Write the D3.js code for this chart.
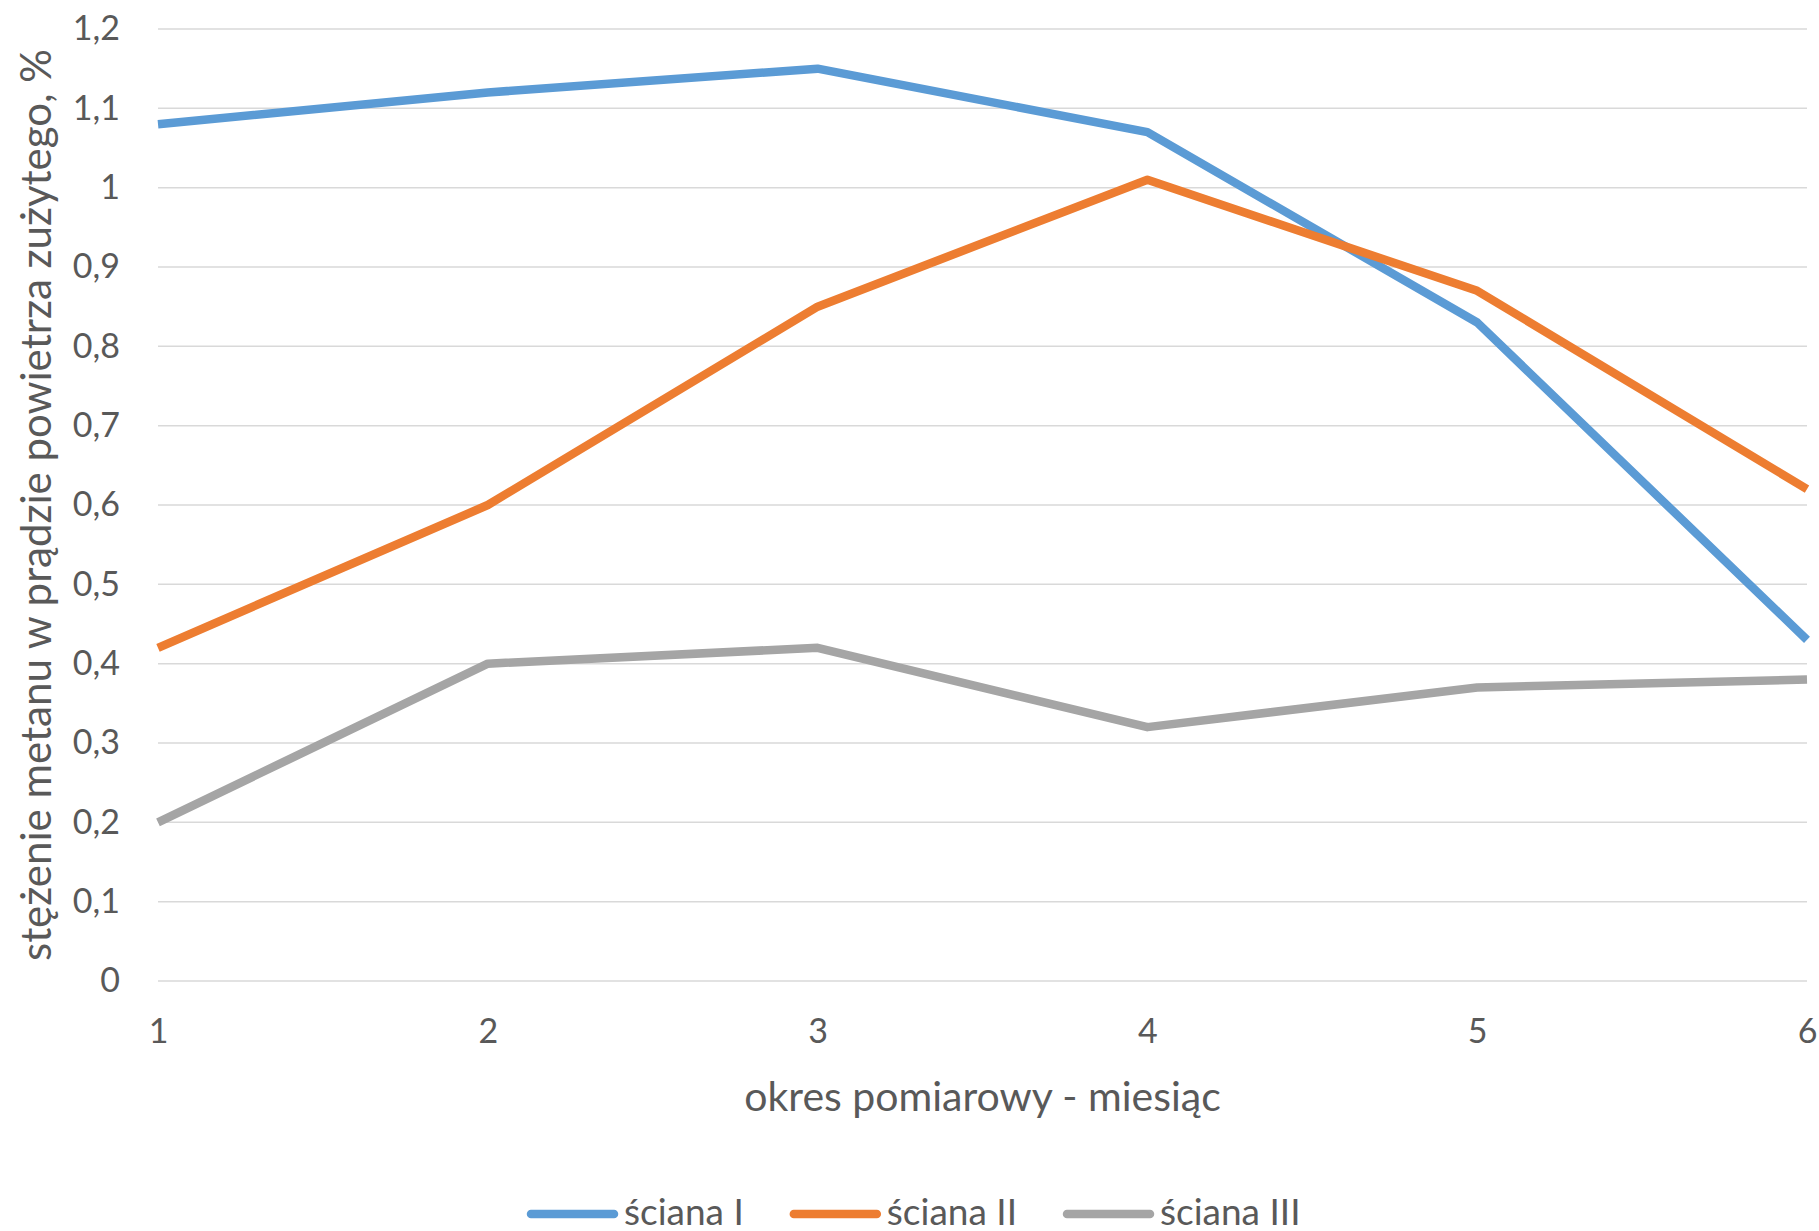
<!DOCTYPE html>
<html>
<head>
<meta charset="utf-8">
<script src="https://cdn.jsdelivr.net/npm/d3@7"></script>
<style>
  html, body { margin: 0; padding: 0; background: #fff; }
  svg { display: block; }
  text { font-family: Lato, "Open Sans", sans-serif; fill: #595959; }
</style>
</head>
<body>
<div id="chart"></div>
<script>
// Measurement periods (months) and methane concentration per longwall, %
const months = [1, 2, 3, 4, 5, 6];
const scianaI   = [1.08, 1.12, 1.15, 1.07, 0.83, 0.43];
const scianaII  = [0.42, 0.60, 0.85, 1.01, 0.87, 0.62];
const scianaIII = [0.20, 0.40, 0.42, 0.32, 0.37, 0.38];
const seriesNames = ["ściana I", "ściana II", "ściana III"];
const seriesColors = ["#5B9BD5", "#ED7D31", "#A5A5A5"];
const yTicks = [0, 0.1, 0.2, 0.3, 0.4, 0.5, 0.6, 0.7, 0.8, 0.9, 1, 1.1, 1.2];
const xTitle = "okres pomiarowy - miesiąc";
const yTitle = "stężenie metanu w prądzie powietrza zużytego, %";

const W = 1819, H = 1231;
const margin = { left: 158, right: 12, top: 29, bottom: 250 };

const svg = d3.select("#chart").append("svg")
  .attr("width", W).attr("height", H);

const x = d3.scaleLinear().domain([1, 6]).range([margin.left, W - margin.right]);
const y = d3.scaleLinear().domain([0, 1.2]).range([H - margin.bottom, margin.top]);

const fmt = v => d3.format("~g")(v).replace(".", ",");

// Horizontal gridlines
svg.append("g")
  .selectAll("line").data(yTicks).join("line")
  .attr("x1", x(1)).attr("x2", x(6))
  .attr("y1", d => y(d)).attr("y2", d => y(d))
  .attr("stroke", "#D9D9D9").attr("stroke-width", 1.5);

// Y axis labels
const yAxis = d3.axisLeft(y).tickValues(yTicks).tickFormat(fmt).tickSize(0).tickPadding(38);
const gy = svg.append("g").attr("transform", `translate(${margin.left},0)`).call(yAxis);
gy.select(".domain").remove();
gy.selectAll("text").attr("font-size", 34).style("font-family", "Lato, sans-serif").attr("fill", "#595959");

// X axis labels
const xAxis = d3.axisBottom(x).tickValues(months).tickFormat(d3.format("d")).tickSize(0).tickPadding(38);
const gx = svg.append("g").attr("transform", `translate(0,${y(0)})`).call(xAxis);
gx.select(".domain").remove();
gx.selectAll("text").attr("font-size", 34).style("font-family", "Lato, sans-serif").attr("fill", "#595959");

// Series lines
const line = d3.line().x((d, i) => x(months[i])).y(d => y(d));
[scianaI, scianaII, scianaIII].forEach((vals, k) => {
  svg.append("path")
    .datum(vals)
    .attr("d", line)
    .attr("fill", "none")
    .attr("stroke", seriesColors[k])
    .attr("stroke-width", 8.5)
    .attr("stroke-linejoin", "round")
    .attr("stroke-linecap", "butt");
});

// Axis titles
svg.append("text")
  .attr("x", (x(1) + x(6)) / 2).attr("y", 1111)
  .attr("text-anchor", "middle").attr("font-size", 41)
  .text(xTitle);

svg.append("text")
  .attr("transform", `translate(36,${(y(0) + y(1.2)) / 2}) rotate(-90)`)
  .attr("text-anchor", "middle").attr("dy", "0.36em").attr("font-size", 42)
  .text(yTitle);

// Legend: swatch line followed by its label, laid out left to right
const legend = svg.append("g");
let cx = 527;
seriesNames.forEach((name, k) => {
  legend.append("line")
    .attr("x1", cx + 4).attr("x2", cx + 87)
    .attr("y1", 1214).attr("y2", 1214)
    .attr("stroke", seriesColors[k]).attr("stroke-width", 8.5)
    .attr("stroke-linecap", "round");
  const t = legend.append("text")
    .attr("x", cx + 97).attr("y", 1225)
    .attr("font-size", 37)
    .text(name);
  cx += 97 + t.node().getComputedTextLength() + 46;
});
</script>
</body>
</html>
